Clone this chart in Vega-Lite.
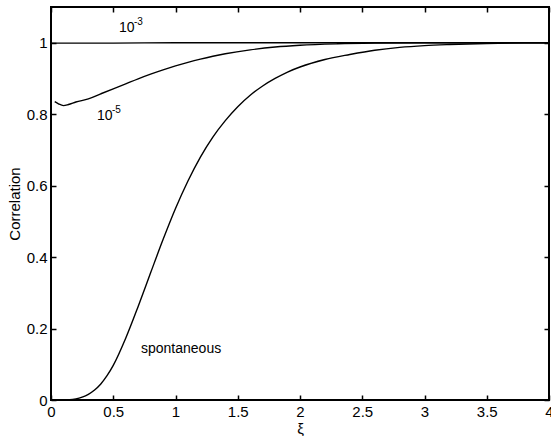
{
  "$schema": "https://vega.github.io/schema/vega-lite/v6.json",
  "autosize": {"type": "none"},
  "padding": {"left": 51, "top": 7, "right": 2, "bottom": 36},
  "width": 498,
  "height": 393,
  "background": "white",
  "config": {
    "view": {"stroke": "#000000", "strokeWidth": 2},
    "font": "Liberation Sans",
    "axis": {
      "grid": false,
      "domain": false,
      "offset": -5,
      "tickColor": "#000000",
      "tickWidth": 1.5,
      "tickSize": 5,
      "labelColor": "black",
      "labelFont": "Liberation Sans",
      "labelFontSize": 15,
      "labelPadding": 4,
      "titleFont": "Liberation Sans",
      "titleFontSize": 15,
      "titleFontWeight": "normal",
      "titleColor": "black"
    }
  },
  "datasets": {
    "curves": [
      {"series": "1e-3", "xi": 0, "corr": 0.999},
      {"series": "1e-3", "xi": 0.5, "corr": 0.999},
      {"series": "1e-3", "xi": 1, "corr": 1.0},
      {"series": "1e-3", "xi": 2, "corr": 1.0},
      {"series": "1e-3", "xi": 3, "corr": 1.0},
      {"series": "1e-3", "xi": 4, "corr": 1.0},
      {"series": "1e-5", "xi": 0.03, "corr": 0.835},
      {"series": "1e-5", "xi": 0.06, "corr": 0.829},
      {"series": "1e-5", "xi": 0.1, "corr": 0.824},
      {"series": "1e-5", "xi": 0.14, "corr": 0.827},
      {"series": "1e-5", "xi": 0.2, "corr": 0.834},
      {"series": "1e-5", "xi": 0.3, "corr": 0.843},
      {"series": "1e-5", "xi": 0.4, "corr": 0.857},
      {"series": "1e-5", "xi": 0.5, "corr": 0.871},
      {"series": "1e-5", "xi": 0.6, "corr": 0.885},
      {"series": "1e-5", "xi": 0.7, "corr": 0.899},
      {"series": "1e-5", "xi": 0.8, "corr": 0.912},
      {"series": "1e-5", "xi": 0.9, "corr": 0.924},
      {"series": "1e-5", "xi": 1.0, "corr": 0.935},
      {"series": "1e-5", "xi": 1.1, "corr": 0.945},
      {"series": "1e-5", "xi": 1.2, "corr": 0.954},
      {"series": "1e-5", "xi": 1.3, "corr": 0.962},
      {"series": "1e-5", "xi": 1.4, "corr": 0.969},
      {"series": "1e-5", "xi": 1.6, "corr": 0.98},
      {"series": "1e-5", "xi": 1.8, "corr": 0.988},
      {"series": "1e-5", "xi": 2.0, "corr": 0.993},
      {"series": "1e-5", "xi": 2.3, "corr": 0.997},
      {"series": "1e-5", "xi": 2.6, "corr": 0.999},
      {"series": "1e-5", "xi": 3.0, "corr": 1.0},
      {"series": "1e-5", "xi": 4.0, "corr": 1.0},
      {"series": "spont", "xi": 0, "corr": 0},
      {"series": "spont", "xi": 0.1, "corr": 0},
      {"series": "spont", "xi": 0.15, "corr": 0.0005},
      {"series": "spont", "xi": 0.2, "corr": 0.003},
      {"series": "spont", "xi": 0.25, "corr": 0.008},
      {"series": "spont", "xi": 0.3, "corr": 0.016},
      {"series": "spont", "xi": 0.35, "corr": 0.028},
      {"series": "spont", "xi": 0.4, "corr": 0.045},
      {"series": "spont", "xi": 0.45, "corr": 0.068},
      {"series": "spont", "xi": 0.5, "corr": 0.097},
      {"series": "spont", "xi": 0.6, "corr": 0.173},
      {"series": "spont", "xi": 0.7, "corr": 0.262},
      {"series": "spont", "xi": 0.8, "corr": 0.356},
      {"series": "spont", "xi": 0.9, "corr": 0.449},
      {"series": "spont", "xi": 1.0, "corr": 0.536},
      {"series": "spont", "xi": 1.1, "corr": 0.613},
      {"series": "spont", "xi": 1.2, "corr": 0.68},
      {"series": "spont", "xi": 1.3, "corr": 0.736},
      {"series": "spont", "xi": 1.4, "corr": 0.782},
      {"series": "spont", "xi": 1.5, "corr": 0.821},
      {"series": "spont", "xi": 1.6, "corr": 0.853},
      {"series": "spont", "xi": 1.7, "corr": 0.879},
      {"series": "spont", "xi": 1.8, "corr": 0.9},
      {"series": "spont", "xi": 1.9, "corr": 0.918},
      {"series": "spont", "xi": 2.0, "corr": 0.932},
      {"series": "spont", "xi": 2.2, "corr": 0.953},
      {"series": "spont", "xi": 2.4, "corr": 0.967},
      {"series": "spont", "xi": 2.6, "corr": 0.979},
      {"series": "spont", "xi": 2.8, "corr": 0.987},
      {"series": "spont", "xi": 3.0, "corr": 0.992},
      {"series": "spont", "xi": 3.2, "corr": 0.995},
      {"series": "spont", "xi": 3.5, "corr": 0.998},
      {"series": "spont", "xi": 3.8, "corr": 0.9995},
      {"series": "spont", "xi": 4.0, "corr": 1.0}
    ],
    "labels": [
      {"xi": 0.546, "corr": 1.03, "base": "10", "exp": "-3"},
      {"xi": 0.369, "corr": 0.784, "base": "10", "exp": "-5"},
      {"xi": 0.723, "corr": 0.1315, "base": "spontaneous", "exp": ""}
    ]
  },
  "layer": [
    {
      "data": {"name": "curves"},
      "mark": {"type": "line", "color": "black", "strokeWidth": 1.4, "interpolate": "monotone"},
      "encoding": {
        "detail": {"field": "series"},
        "x": {"field": "xi", "type": "quantitative", "scale": {"domain": [0, 4], "nice": false},
              "axis": {"orient": "bottom", "values": [0, 0.5, 1, 1.5, 2, 2.5, 3, 3.5, 4], "title": "ξ", "titlePadding": 2, "labelFlush": false,
                       "labelExpr": "format(datum.value, '~g')"}},
        "y": {"field": "corr", "type": "quantitative", "scale": {"domain": [0, 1.1], "nice": false},
              "axis": {"orient": "left", "values": [0, 0.2, 0.4, 0.6, 0.8, 1], "title": "Correlation", "titlePadding": 4, "labelFlush": false,
                       "labelExpr": "format(datum.value, '~g')"}}
      }
    },
    {
      "data": {"name": "labels"},
      "encoding": {
        "x": {"field": "xi", "type": "quantitative", "scale": {"domain": [0, 4], "nice": false},
              "axis": {"orient": "top", "values": [0, 0.5, 1, 1.5, 2, 2.5, 3, 3.5, 4], "labels": false, "title": null}},
        "y": {"field": "corr", "type": "quantitative", "scale": {"domain": [0, 1.1], "nice": false},
              "axis": {"orient": "right", "values": [0, 0.2, 0.4, 0.6, 0.8, 1], "labels": false, "title": null}}
      },
      "layer": [
        {
          "mark": {"type": "text", "align": "left", "baseline": "alphabetic", "fontSize": 14, "font": "Liberation Sans", "color": "black"},
          "encoding": {"text": {"field": "base"}}
        },
        {
          "mark": {"type": "text", "align": "left", "baseline": "alphabetic", "fontSize": 10, "font": "Liberation Sans", "color": "black", "dx": 15, "dy": -7},
          "encoding": {"text": {"field": "exp"}}
        }
      ]
    }
  ],
  "resolve": {"axis": {"x": "independent", "y": "independent"}}
}
